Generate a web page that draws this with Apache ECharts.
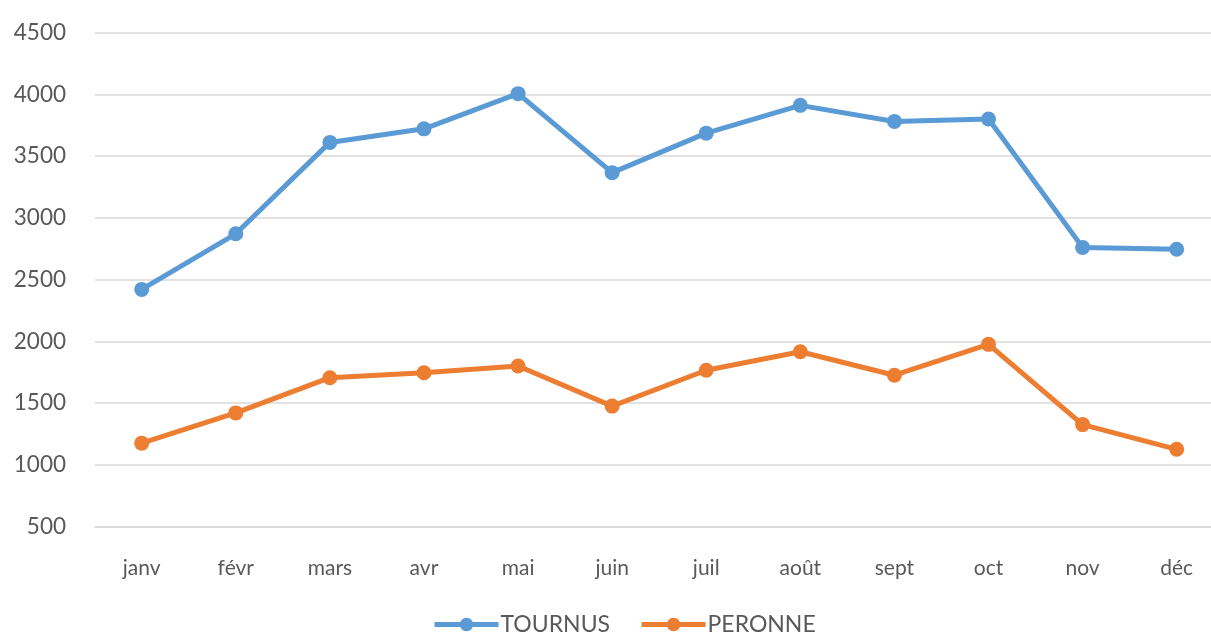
<!DOCTYPE html>
<html>
<head>
<meta charset="utf-8">
<script src="https://cdn.jsdelivr.net/npm/echarts@6/dist/echarts.min.js"></script>
<style>
html,body{margin:0;padding:0;background:#fff;}
#chart{width:1211px;height:632px;}
</style>
</head>
<body>
<div id="chart"></div>
<script>
const months = ['janv','févr','mars','avr','mai','juin','juil','août','sept','oct','nov','déc'];
const tournus = [2420, 2870, 3610, 3720, 4005, 3365, 3685, 3910, 3780, 3800, 2760, 2745];
const peronne = [1175, 1420, 1705, 1745, 1800, 1475, 1765, 1915, 1725, 1975, 1325, 1125];
const seriesNames = ['TOURNUS', 'PERONNE'];

const chart = echarts.init(document.getElementById('chart'));
const font = 'Lato, "Open Sans", sans-serif';
const gridTop = 32.5, gridBottom = 105.5;
chart.setOption({
  animation: false,
  backgroundColor: '#ffffff',
  color: ['#5B9BD5', '#ED7D31'],
  grid: [
    { left: 95, right: 0, top: gridTop, bottom: gridBottom },
    { left: 141.7, right: 34.3, top: gridTop, bottom: gridBottom }
  ],
  legend: {
    left: 427,
    top: 608,
    itemWidth: 64,
    itemHeight: 17,
    itemGap: 29,
    lineStyle: { width: 5 },
    textStyle: { fontFamily: font, fontSize: 23, color: '#595959', padding: [0,0,0,-3] },
    data: seriesNames
  },
  xAxis: [
    {
      gridIndex: 0, type: 'category', data: months, boundaryGap: true,
      axisLine: { lineStyle: { color: '#d9d9d9', width: 1.5 } },
      axisTick: { show: false }, axisLabel: { show: false }
    },
    {
      gridIndex: 1, type: 'category', data: months, boundaryGap: false,
      axisLine: { show: false },
      axisTick: { show: false },
      splitLine: { show: false },
      axisLabel: { fontFamily: font, fontSize: 21, color: '#595959', margin: 31, interval: 0 }
    }
  ],
  yAxis: [
    {
      gridIndex: 0, type: 'value', min: 500, max: 4500, interval: 500,
      axisLine: { show: false }, axisTick: { show: false },
      splitLine: { lineStyle: { color: '#d9d9d9', width: 1.5 } },
      axisLabel: { fontFamily: font, fontSize: 22.5, color: '#595959', margin: 29,
        formatter: function (v) { return String(v); } }
    },
    {
      gridIndex: 1, type: 'value', min: 500, max: 4500, interval: 500,
      axisLine: { show: false }, axisTick: { show: false },
      splitLine: { show: false }, axisLabel: { show: false }
    }
  ],
  series: [
    {
      name: seriesNames[0], type: 'line', data: tournus,
      xAxisIndex: 1, yAxisIndex: 1,
      symbol: 'circle', symbolSize: 15,
      lineStyle: { width: 5 }
    },
    {
      name: seriesNames[1], type: 'line', data: peronne,
      xAxisIndex: 1, yAxisIndex: 1,
      symbol: 'circle', symbolSize: 15,
      lineStyle: { width: 5 }
    }
  ]
});
</script>
</body>
</html>
